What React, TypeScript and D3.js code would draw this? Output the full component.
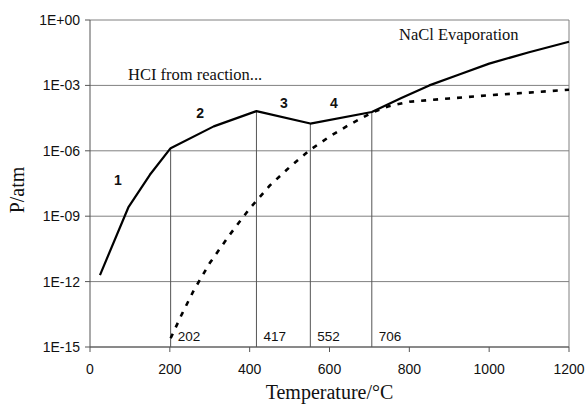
import React from "react";
import * as d3 from "d3";

// Solid curve: HCl partial pressure (T in °C, log10 P/atm)
const solidT = [25, 96, 150, 202, 310, 417, 552, 706, 780, 850, 925, 1000, 1100, 1200];
const solidLogP = [-11.7, -8.6, -7.1, -5.88, -4.88, -4.18, -4.75, -4.22, -3.58, -3.0, -2.5, -2.0, -1.48, -1.0];

// Dashed curve
const dashT = [202, 230, 260, 300, 350, 400, 450, 500, 552, 600, 650, 706, 750, 800, 900, 1000, 1100, 1200];
const dashLogP = [-14.6, -13.5, -12.4, -11.15, -9.85, -8.65, -7.6, -6.75, -5.95, -5.35, -4.8, -4.25, -3.95, -3.75, -3.6, -3.45, -3.33, -3.2];

const markerT = [202, 417, 552, 706];
const markerLabels = ["202", "417", "552", "706"];

const regionLabels = ["1", "2", "3", "4"];
const regionT = [70, 276, 486, 611];
const regionLogP = [-7.58, -4.51, -4.05, -4.05];

const xTicks = [0, 200, 400, 600, 800, 1000, 1200];
const yTicks = [0, -3, -6, -9, -12, -15];
const yTickLabels = ["1E+00", "1E-03", "1E-06", "1E-09", "1E-12", "1E-15"];

export default function App() {
  const W = 586, H = 405;
  const left = 90, right = 569, top = 20, bottom = 347;
  const x = d3.scaleLinear().domain([0, 1200]).range([left, right]);
  const y = d3.scaleLinear().domain([-15, 0]).range([bottom, top]);

  const line = d3
    .line<[number, number]>()
    .x((d) => x(d[0]))
    .y((d) => y(d[1]))
    .curve(d3.curveLinear);

  const solidPts: [number, number][] = solidT.map((t, i) => [t, solidLogP[i]]);
  const dashPts: [number, number][] = dashT.map((t, i) => [t, dashLogP[i]]);

  const sans = "Liberation Sans, Arial, sans-serif";
  const serif = "Liberation Serif, Times New Roman, serif";

  return (
    <svg width={W} height={H} style={{ position: "absolute", left: 0, top: 0, background: "#fff" }}>
      {/* horizontal gridlines */}
      {yTicks.map((v) => (
        <line key={"g" + v} x1={left} x2={right} y1={y(v)} y2={y(v)} stroke="#808080" strokeWidth={1} />
      ))}
      {/* right border */}
      <line x1={right} x2={right} y1={top} y2={bottom} stroke="#808080" strokeWidth={1} />

      {/* marker verticals */}
      {markerT.map((t) => {
        const idx = solidT.indexOf(t);
        return (
          <line key={"m" + t} x1={x(t)} x2={x(t)} y1={y(solidLogP[idx])} y2={bottom} stroke="#555" strokeWidth={1} />
        );
      })}
      {markerT.map((t, i) => (
        <text key={"ml" + t} x={x(t) + 7} y={341} fontFamily={sans} fontSize={13.5} fill="#111">
          {markerLabels[i]}
        </text>
      ))}

      {/* axes */}
      <line x1={left} x2={left} y1={top} y2={bottom} stroke="#555" strokeWidth={1} />
      <line x1={left} x2={right} y1={bottom} y2={bottom} stroke="#555" strokeWidth={1} />
      {xTicks.map((t) => (
        <g key={"xt" + t}>
          <line x1={x(t)} x2={x(t)} y1={bottom} y2={bottom + 5} stroke="#555" />
          <text x={x(t)} y={374} textAnchor="middle" fontFamily={sans} fontSize={14} fill="#111">
            {t}
          </text>
        </g>
      ))}
      {yTicks.map((v, i) => (
        <g key={"yt" + v}>
          <line x1={left - 5} x2={left} y1={y(v)} y2={y(v)} stroke="#555" />
          <text x={80} y={y(v) + 5} textAnchor="end" fontFamily={sans} fontSize={14} fill="#111">
            {yTickLabels[i]}
          </text>
        </g>
      ))}

      {/* curves */}
      <path d={line(dashPts) || ""} fill="none" stroke="#000" strokeWidth={2.6} strokeDasharray="5,7" />
      <path d={line(solidPts) || ""} fill="none" stroke="#000" strokeWidth={2.2} strokeLinejoin="round" />

      {/* region labels */}
      {regionLabels.map((l, i) => (
        <text key={"r" + l} x={x(regionT[i])} y={y(regionLogP[i])} textAnchor="middle" fontFamily={sans} fontWeight="bold" fontSize={14} fill="#111">
          {l}
        </text>
      ))}

      {/* annotations */}
      <text x={128} y={80} fontFamily={serif} fontSize={16.5} fill="#111">HCI from reaction...</text>
      <text x={399} y={40} fontFamily={serif} fontSize={16.5} fill="#111">NaCl Evaporation</text>

      {/* axis titles */}
      <text x={(left + right) / 2} y={399} textAnchor="middle" fontFamily={serif} fontSize={20} fill="#111">
        Temperature/°C
      </text>
      <text transform={`translate(24, 190) rotate(-90)`} textAnchor="middle" fontFamily={serif} fontSize={20} fill="#111">
        P/atm
      </text>
    </svg>
  );
}
